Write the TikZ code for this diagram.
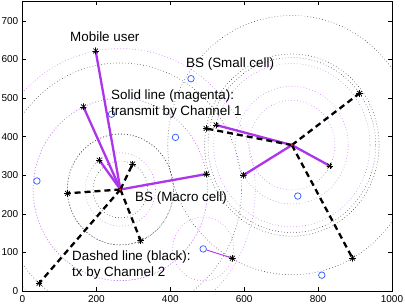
\documentclass[tikz,border=0pt]{standalone}
\usepackage{fontspec}
\setmainfont{Liberation Sans}
\definecolor{chone}{RGB}{172,52,235}
\definecolor{cellblue}{RGB}{45,85,255}
\definecolor{bsred}{RGB}{235,30,30}

\begin{document}
\begin{tikzpicture}[x=0.3695pt, y=0.386pt,
		ring/.style={line width=0.6pt, dash pattern=on 0.6pt off 2.4pt},
		chlink/.style={chone, line width=2.3pt},
		txlink/.style={black, line width=2.3pt, dash pattern=on 6pt off 4pt},
		user/.style={circle, inner sep=0pt, minimum size=7pt, path picture={
			\foreach \a in {0,45,90,135}
				\draw[line width=0.7pt] ([shift={(\a:3.5pt)}]path picture bounding box.center)
					-- ([shift={(\a+180:3.5pt)}]path picture bounding box.center);}},
		smallbs/.style={circle, draw=cellblue, line width=0.7pt, minimum size=6.5pt, inner sep=0pt},
		bsdot/.style={circle, fill=bsred, minimum size=2.5pt, inner sep=0pt},
		lbl/.style={font=\fontsize{13.4}{15.6}\selectfont, anchor=west, inner sep=0pt, align=left},
		tlbl/.style={font=\fontsize{10}{12}\selectfont, inner sep=0pt}]
		\useasboundingbox (-60.89,-38.86) rectangle (1035.2,753.9);
		\coordinate (mbs) at (265,263);
		\coordinate (hbs) at (729,378);
		\foreach \n/\p in {u1/{198,622}, u2/{165,477}, u3/{208,339}, u4/{298,329}, u5/{122,253},
			u6/{320,130}, u7/{45,20}, u8/{498,303}, u9/{497,421}, u10/{524,430}, u11/{598,300},
			u12/{832,324}, u13/{912,512}, u14/{893,85}, u15/{568,85}}
			\coordinate (\n) at (\p);
		\foreach \n/\p in {sc1/{456,550}, sc2/{414,398}, sc3/{39,285}, sc4/{745,246},
			sc5/{810,41}, sc6/{489,109}, sc7/{241,458}}
			\coordinate (\n) at (\p);
		\begin{scope}
			\clip (0,0) rectangle (1000,750);
			\foreach \c/\r in {mbs/365, mbs/236, mbs/95, mbs/236.4, hbs/211.5, hbs/152.5, hbs/116.3, sc6/82.6}
				\draw[ring, chone!70] (\c) circle [radius=\r];
			\foreach \c/\r in {mbs/73.8, mbs/143.3, mbs/143.9, mbs/327.8, hbs/236, hbs/226.8, hbs/335.8}
				\draw[ring, black!75] (\c) circle [radius=\r];
		\end{scope}
		\foreach \i in {1,...,7}
			\node[smallbs] (s\i) at (sc\i) {};
		\foreach \u in {u1,u2,u3,u8} \draw[chlink] (mbs) -- (\u);
		\foreach \u in {u4,u5,u6,u7} \draw[txlink] (mbs) -- (\u);
		\foreach \u in {u10,u11,u12} \draw[chlink] (hbs) -- (\u);
		\foreach \u in {u9,u13,u14} \draw[txlink] (hbs) -- (\u);
		\draw[chone, line width=0.9pt] (s6) -- (u15);
		\foreach \i in {1,...,15}
			\node[user] (m\i) at (u\i) {};
		\node[bsdot] (mdot) at (mbs) {};
		\node[bsdot] (hdot) at (hbs) {};
		\draw[line width=0.5pt] (0,0) rectangle (1000,750);
		\foreach \t in {0,200,...,1000} {
			\draw[line width=0.5pt] (\t,0) -- ++(0pt,3.7pt) (\t,750) -- ++(0pt,-3.7pt);
			\node[tlbl] (xl\t) at (\t,-21) {\t};
		}
		\foreach \t in {0,100,...,700} {
			\draw[line width=0.5pt] (0,\t) -- ++(3.7pt,0pt) (1000,\t) -- ++(-3.7pt,0pt);
			\node[tlbl, anchor=east] (yl\t) at (-11,\t) {\t};
		}
		\node[lbl] (mu) at (128.6,658) {Mobile user};
		\node[lbl] (sbl) at (442.5,588) {BS (Small cell)};
		\node[lbl] (sol) at (239.5,484.7) {Solid line (magenta):\\transmit by Channel 1};
		\node[lbl] (mbl) at (304.5,241) {BS (Macro cell)};
		\node[lbl] (dal) at (134,67.4) {Dashed line (black):\\tx by Channel 2};
	\end{tikzpicture}
\end{document}
